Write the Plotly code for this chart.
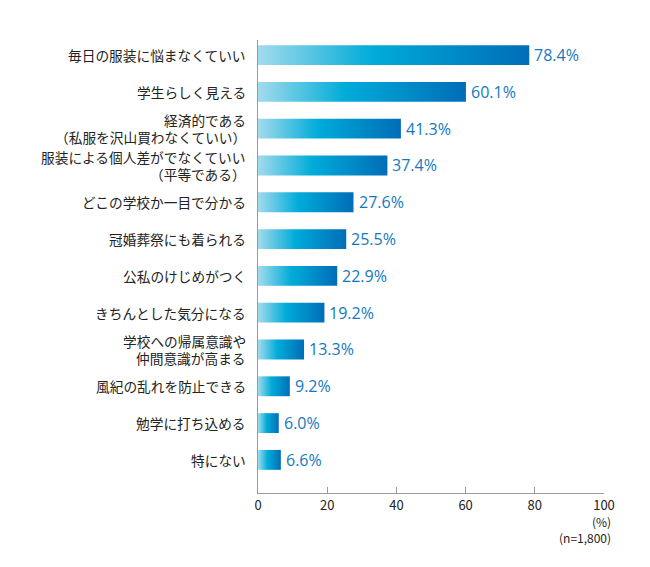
import plotly.graph_objects as go

categories = [
    "毎日の服装に悩まなくていい",
    "学生らしく見える",
    "経済的である<br>（私服を沢山買わなくていい）",
    "服装による個人差がでなくていい<br>（平等である）",
    "どこの学校か一目で分かる",
    "冠婚葬祭にも着られる",
    "公私のけじめがつく",
    "きちんとした気分になる",
    "学校への帰属意識や<br>仲間意識が高まる",
    "風紀の乱れを防止できる",
    "勉学に打ち込める",
    "特にない",
]
values = [78.4, 60.1, 41.3, 37.4, 27.6, 25.5, 22.9, 19.2, 13.3, 9.2, 6.0, 6.6]
x_ticks = [0, 20, 40, 60, 80, 100]

JP = "Noto Sans CJK JP"
BAR_HALF = 0.27
colorscale = [[0, "#a2dbec"], [0.42, "#00acd9"], [1, "#006db8"]]

fig = go.Figure()
for i, v in enumerate(values):
    fig.add_trace(go.Scatter(
        x=[0, v, v, 0, 0],
        y=[i - BAR_HALF, i - BAR_HALF, i + BAR_HALF, i + BAR_HALF, i - BAR_HALF],
        mode="lines", line=dict(width=0), fill="toself",
        fillgradient=dict(type="horizontal", colorscale=colorscale),
        hoverinfo="skip", showlegend=False,
    ))

annotations = []
for i, v in enumerate(values):
    annotations.append(dict(
        text=f"{v:.1f}%", x=v, y=i, xref="x", yref="y", xanchor="left", yanchor="middle",
        xshift=3, showarrow=False,
        font=dict(family="Open Sans", size=16, color="#1478c0"),
    ))

LINE_GAP = 17
for i, cat in enumerate(categories):
    lines = cat.split("<br>")
    n = len(lines)
    for k, line in enumerate(lines):
        annotations.append(dict(
            text=line, x=0, y=i, xref="x", yref="y", xanchor="right", yanchor="middle",
            xshift=-11, yshift=((n - 1) / 2 - k) * LINE_GAP, showarrow=False, borderpad=0,
            font=dict(family=JP, size=13.7, color="#222"),
        ))

annotations += [
    dict(text="(%)", x=1.025, y=-0.064, xref="paper", yref="paper", xanchor="right", yanchor="middle",
         showarrow=False, font=dict(family=JP, size=12, color="#222")),
    dict(text="(n=1,800)", x=1.027, y=-0.098, xref="paper", yref="paper", xanchor="right", yanchor="middle",
         showarrow=False, font=dict(family=JP, size=12, color="#222")),
]

fig.update_layout(
    width=650, height=567,
    margin=dict(l=258, r=46, t=40, b=74),
    plot_bgcolor="white", paper_bgcolor="white",
    xaxis=dict(range=[0, 100], tickvals=x_ticks, ticktext=[str(t) for t in x_ticks],
               showgrid=False, zeroline=False, showline=True, linecolor="#9a9a9a", linewidth=1,
               ticks="inside", ticklen=6, tickcolor="#9a9a9a",
               tickfont=dict(family=JP, size=13, color="#222")),
    yaxis=dict(range=[11.9, -0.41], showticklabels=False,
               showgrid=False, zeroline=False, showline=True, linecolor="#9a9a9a", linewidth=1,
               ticks=""),
    annotations=annotations,
)

fig.write_html("out.html")
